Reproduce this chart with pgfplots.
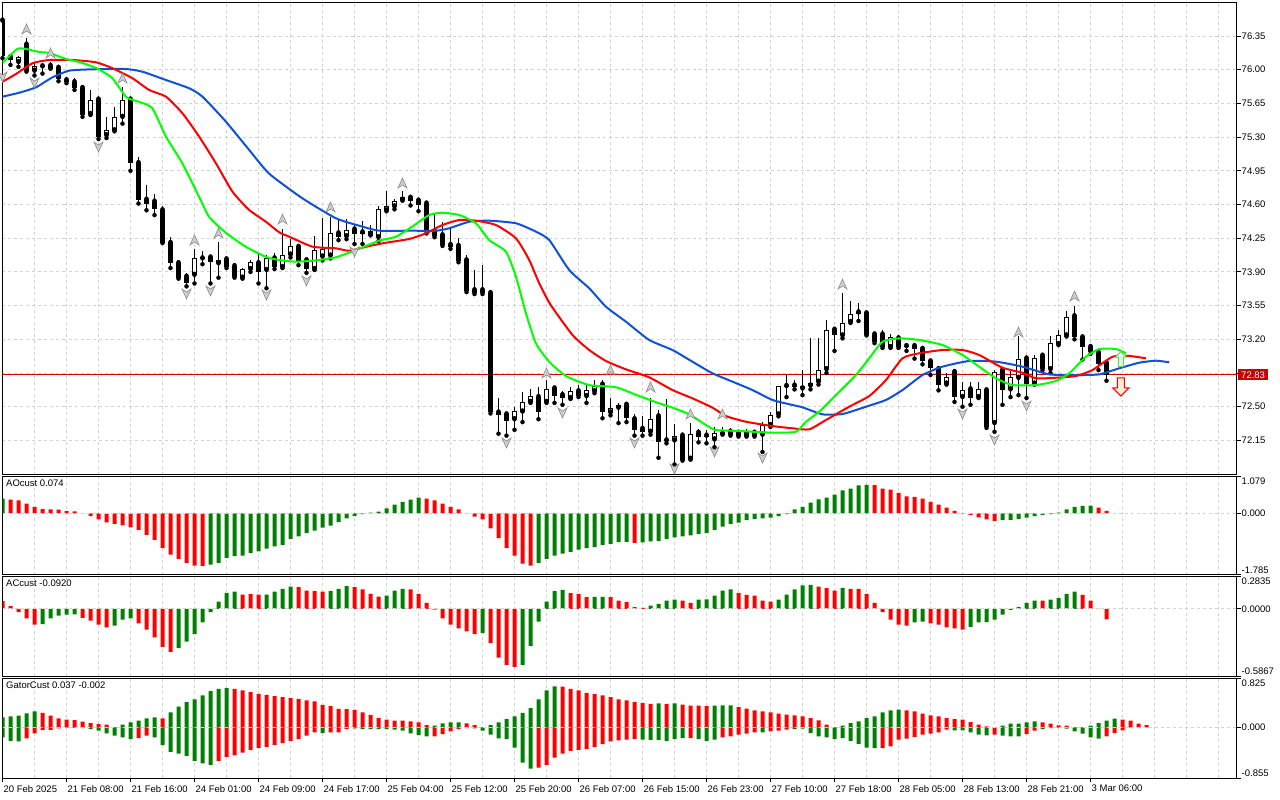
\documentclass[border=0pt]{standalone}
\usepackage{fontspec}
\setmainfont{Liberation Sans}
\usepackage{pgfplots}
\usepackage{pgfplotstable}
\pgfplotsset{compat=1.18}
\newcommand\tf{\fontsize{9.5}{10}\selectfont}
\definecolor{gridc}{RGB}{210,210,210}
\definecolor{lipsc}{RGB}{0,255,0}
\definecolor{teethc}{RGB}{255,0,0}
\definecolor{jawc}{RGB}{16,82,212}
\definecolor{hgreen}{RGB}{0,128,0}
\definecolor{hred}{RGB}{255,0,0}
\definecolor{pricec}{RGB}{215,0,0}
\definecolor{pbox}{RGB}{200,0,0}
\definecolor{fracfill}{RGB}{205,205,205}
\definecolor{fracdraw}{RGB}{140,140,140}
\tikzset{lab/.style={font=\tf, inner sep=0pt}}

\pgfdeclareplotmark{fup}{%
\pgfpathmoveto{\pgfqpoint{0pt}{5pt}}%
\pgfpathlineto{\pgfqpoint{4.5pt}{-5pt}}%
\pgfpathlineto{\pgfqpoint{0pt}{-2pt}}%
\pgfpathlineto{\pgfqpoint{-4.5pt}{-5pt}}%
\pgfpathclose\pgfusepathqfillstroke}
\pgfdeclareplotmark{fdn}{%
\pgfpathmoveto{\pgfqpoint{0pt}{-5pt}}%
\pgfpathlineto{\pgfqpoint{4.5pt}{5pt}}%
\pgfpathlineto{\pgfqpoint{0pt}{2pt}}%
\pgfpathlineto{\pgfqpoint{-4.5pt}{5pt}}%
\pgfpathclose\pgfusepathqfillstroke}
\pgfdeclareplotmark{sup}{%
\pgfpathmoveto{\pgfqpoint{0pt}{7.5pt}}%
\pgfpathlineto{\pgfqpoint{5.5pt}{2pt}}%
\pgfpathlineto{\pgfqpoint{2.5pt}{2pt}}%
\pgfpathlineto{\pgfqpoint{2.5pt}{-7.5pt}}%
\pgfpathlineto{\pgfqpoint{-2.5pt}{-7.5pt}}%
\pgfpathlineto{\pgfqpoint{-2.5pt}{2pt}}%
\pgfpathlineto{\pgfqpoint{-5.5pt}{2pt}}%
\pgfpathclose\pgfusepathqfillstroke}
\pgfdeclareplotmark{sdn}{%
\pgfpathmoveto{\pgfqpoint{0pt}{-9pt}}%
\pgfpathlineto{\pgfqpoint{8pt}{-1pt}}%
\pgfpathlineto{\pgfqpoint{3.5pt}{-1pt}}%
\pgfpathlineto{\pgfqpoint{3.5pt}{9pt}}%
\pgfpathlineto{\pgfqpoint{-3.5pt}{9pt}}%
\pgfpathlineto{\pgfqpoint{-3.5pt}{-1pt}}%
\pgfpathlineto{\pgfqpoint{-8pt}{-1pt}}%
\pgfpathclose\pgfusepathqfillstroke}

\pgfplotstableread{
i O H L C
0 76.51 76.52 76.12 76.14
1 76.13 76.15 76.05 76.10
2 76.08 76.14 76.03 76.13
3 76.26 76.33 75.98 75.99
4 75.99 76.08 75.94 76.04
5 76.035 76.06 75.96 76.025
6 76.04 76.08 76.01 76.01
7 76.02 76.04 75.88 75.90
8 75.89 75.92 75.86 75.87
9 75.87 75.91 75.79 75.81
10 75.81 75.81 75.51 75.53
11 75.54 75.79 75.53 75.69
12 75.69 75.71 75.28 75.30
13 75.32 75.51 75.29 75.37
14 75.37 75.61 75.36 75.51
15 75.51 75.82 75.44 75.69
16 75.69 75.69 74.95 75.03
17 75.03 75.09 74.61 74.65
18 74.65 74.80 74.54 74.61
19 74.63 74.71 74.49 74.55
20 74.54 74.58 74.20 74.20
21 74.20 74.26 73.94 73.99
22 73.99 74.00 73.83 73.84
23 73.85 73.89 73.75 73.79
24 73.87 74.14 73.78 74.04
25 74.04 74.12 73.98 74.06
26 74.05 74.08 73.78 74.00
27 73.99 74.21 73.84 74.02
28 74.03 74.06 73.94 73.95
29 73.96 73.97 73.84 73.85
30 73.84 73.94 73.83 73.93
31 73.93 74.02 73.90 74.00
32 73.99 74.09 73.78 73.90
33 73.92 74.08 73.73 74.04
34 74.04 74.10 73.93 73.95
35 73.95 74.35 73.94 74.08
36 74.08 74.24 74.05 74.17
37 74.16 74.19 73.97 74.01
38 74.02 74.05 73.89 73.93
39 73.93 74.27 73.92 74.13
40 74.06 74.46 74.02 74.14
41 74.07 74.47 74.04 74.30
42 74.30 74.44 74.23 74.26
43 74.27 74.45 74.24 74.34
44 74.34 74.39 74.19 74.29
45 74.31 74.43 74.19 74.29
46 74.29 74.39 74.28 74.33
47 74.26 74.58 74.22 74.55
48 74.54 74.74 74.53 74.58
49 74.58 74.66 74.55 74.64
50 74.65 74.74 74.64 74.68
51 74.67 74.68 74.59 74.64
52 74.64 74.64 74.53 74.59
53 74.61 74.61 74.30 74.34
54 74.32 74.51 74.26 74.27
55 74.28 74.42 74.17 74.18
56 74.18 74.35 74.14 74.16
57 74.17 74.25 74.00 74.01
58 74.02 74.08 73.69 73.70
59 73.71 73.92 73.67 73.68
60 73.71 73.97 73.67 73.68
61 73.68 73.69 72.43 72.44
62 72.44 72.59 72.22 72.41
63 72.42 72.45 72.20 72.35
64 72.37 72.50 72.26 72.46
65 72.45 72.65 72.34 72.55
66 72.55 72.68 72.54 72.61
67 72.60 72.70 72.37 72.45
68 72.55 72.78 72.54 72.68
69 72.69 72.71 72.54 72.61
70 72.62 72.66 72.52 72.59
71 72.59 72.70 72.58 72.66
72 72.66 72.73 72.60 72.61
73 72.61 72.73 72.54 72.67
74 72.66 72.78 72.64 72.71
75 72.73 72.78 72.38 72.45
76 72.44 72.59 72.41 72.49
77 72.49 72.54 72.33 72.52
78 72.52 72.54 72.34 72.38
79 72.37 72.42 72.20 72.26
80 72.27 72.40 72.20 72.24
81 72.24 72.59 72.21 72.37
82 72.40 72.47 71.97 72.13
83 72.15 72.58 72.12 72.14
84 72.15 72.32 71.90 72.20
85 72.20 72.21 71.94 71.95
86 71.96 72.33 71.95 72.22
87 72.23 72.27 72.13 72.19
88 72.20 72.26 72.12 72.19
89 72.16 72.29 72.08 72.23
90 72.22 72.29 72.21 72.24
91 72.24 72.28 72.20 72.21
92 72.23 72.24 72.19 72.20
93 72.20 72.27 72.19 72.24
94 72.23 72.26 72.19 72.20
95 72.21 72.34 72.03 72.31
96 72.31 72.45 72.29 72.41
97 72.42 72.72 72.40 72.71
98 72.715 72.83 72.60 72.705
99 72.72 72.78 72.68 72.70
100 72.69 72.88 72.62 72.72
101 72.72 73.21 72.68 72.75
102 72.76 73.21 72.73 72.88
103 72.89 73.40 72.85 73.30
104 73.30 73.30 73.08 73.24
105 73.24 73.68 73.21 73.37
106 73.38 73.60 73.37 73.46
107 73.48 73.58 73.39 73.46
108 73.47 73.48 73.24 73.25
109 73.25 73.29 73.16 73.17
110 73.25 73.30 73.11 73.12
111 73.12 73.26 73.11 73.22
112 73.21 73.23 73.11 73.12
113 73.13 73.16 73.08 73.12
114 73.13 73.14 73.00 73.10
115 73.10 73.13 72.94 72.97
116 72.97 72.99 72.83 72.90
117 72.89 72.92 72.67 72.73
118 72.74 72.85 72.73 72.81
119 72.86 72.88 72.55 72.60
120 72.60 72.76 72.50 72.67
121 72.68 72.76 72.52 72.59
122 72.60 72.76 72.59 72.68
123 72.67 72.68 72.28 72.29
124 72.33 72.88 72.24 72.86
125 72.88 72.90 72.52 72.67
126 72.68 72.88 72.60 72.81
127 72.80 73.23 72.62 73.00
128 73.00 73.04 72.59 72.74
129 72.74 73.04 72.73 73.01
130 73.03 73.05 72.88 72.89
131 72.89 73.23 72.85 73.16
132 73.15 73.30 73.14 73.25
133 73.24 73.49 73.23 73.43
134 73.44 73.55 73.20 73.22
135 73.22 73.24 72.99 73.12
136 73.12 73.13 73.05 73.07
137 73.06 73.07 72.88 72.94
138 72.95 72.96 72.77 72.83
}\candles

\pgfplotstableread{
x y
0 76.07
1.84 76.215
2.96 76.215
4.59 76.184
5.84 76.174
7.96 76.111
9.59 76.080
11.71 76.018
13.71 75.914
15.46 75.717
17.09 75.665
18.71 75.602
20.46 75.301
22.46 75.031
24.59 74.678
25.84 74.470
27.96 74.304
30.46 74.159
32.96 74.055
34.59 74.024
36.68 74.006
39.20 74.020
41.68 74.052
44.18 74.128
47.09 74.224
49.18 74.266
51.21 74.370
53.34 74.491
54.96 74.515
57.09 74.491
59.18 74.405
60.84 74.231
62.93 74.110
64.18 73.850
65.43 73.470
66.68 73.158
68.34 72.967
70.43 72.819
73.34 72.725
76.68 72.702
79.59 72.611
82.09 72.535
83.75 72.490
85.84 72.421
87.93 72.310
89.18 72.258
92.09 72.248
96.25 72.230
99.18 72.240
100.43 72.344
102.09 72.448
104.18 72.621
106.68 72.829
108.34 73.003
110.00 73.175
112.09 73.210
114.59 73.193
117.50 73.141
120.00 73.037
122.09 72.915
124.18 72.795
126.25 72.725
129.18 72.725
131.68 72.767
133.34 72.847
135.43 73.019
137.09 73.099
139.18 73.099
140.43 73.055
}\lips

\pgfplotstableread{
x y
0 75.875
1.68 75.955
3.75 76.067
5.84 76.101
8.75 76.101
11.68 76.077
13.75 76.015
16.25 75.911
18.34 75.789
20.43 75.720
22.50 75.547
24.59 75.304
26.68 75.028
28.75 74.733
30.84 74.543
32.93 74.421
34.59 74.311
35.84 74.266
38.75 74.162
41.68 74.145
43.34 74.120
45.84 74.169
47.93 74.203
50.84 74.242
52.93 74.301
55.00 74.387
57.09 74.439
59.18 74.432
61.68 74.387
64.18 74.249
65.84 74.024
67.09 73.782
68.50 73.560
71.25 73.245
73.34 73.089
75.43 72.975
77.93 72.888
80.84 72.805
83.75 72.673
86.25 72.587
88.75 72.490
90.43 72.403
92.93 72.344
96.25 72.299
98.75 72.276
100.84 72.265
102.93 72.362
105.84 72.500
108.34 72.611
110.43 72.777
112.50 73.003
114.59 73.055
117.50 73.089
120.00 73.089
122.09 73.037
125.00 72.905
127.50 72.853
129.18 72.795
131.68 72.801
134.18 72.819
136.25 72.881
138.75 73.019
140.84 73.027
142.93 73.003
}\teeth

\pgfplotstableread{
x y
0 75.720
2.09 75.761
4.18 75.817
6.25 75.921
8.34 75.990
11.25 76.004
15.43 76.007
17.50 75.979
20.43 75.893
23.34 75.807
25.00 75.720
27.93 75.460
30.84 75.166
33.34 74.920
37.50 74.664
41.68 74.457
45.00 74.370
47.09 74.328
50.84 74.328
54.18 74.328
55.84 74.353
58.34 74.421
60.84 74.432
64.18 74.405
66.68 74.318
68.34 74.231
70.84 73.920
73.34 73.730
75.43 73.539
77.93 73.383
80.84 73.193
83.75 73.089
86.25 72.967
88.75 72.847
91.25 72.760
93.75 72.673
96.25 72.570
98.75 72.518
100.00 72.494
102.50 72.421
105.00 72.424
107.93 72.500
110.43 72.570
112.50 72.673
115.00 72.829
117.50 72.916
120.84 72.975
124.18 72.968
127.50 72.916
130.84 72.836
134.18 72.829
137.09 72.836
139.59 72.899
142.09 72.957
144.18 72.978
145.84 72.961
}\jaw

\pgfplotstableread{
x y
3 76.423
6 76.174
15 75.914
24 74.231
27 74.304
35 74.449
41 74.574
50 74.823
68 72.850
76 72.881
81 72.705
86 72.424
90 72.424
105 73.774
127 73.276
134 73.650
}\fracup

\pgfplotstableread{
x y
0 75.924
4 75.862
12 75.197
23 73.671
26 73.702
33 73.660
38 73.806
44 74.107
63 72.123
70 72.435
79 72.123
84 71.853
89 72.030
95 71.967
120 72.424
124 72.154
128 72.507
}\fracdn

\pgfplotstableread{
i v c
0 0.434 1
1 0.405 0
2 0.384 0
3 0.289 0
4 0.194 0
5 0.124 0
6 0.116 0
7 0.110 0
8 0.066 0
9 0.060 0
10 -0.009 0
11 -0.078 0
12 -0.173 0
13 -0.260 0
14 -0.309 0
15 -0.347 0
16 -0.405 0
17 -0.483 0
18 -0.627 0
19 -0.772 0
20 -1.012 0
21 -1.205 0
22 -1.329 0
23 -1.445 0
24 -1.523 0
25 -1.530 0
26 -1.494 1
27 -1.445 1
28 -1.301 1
29 -1.251 1
30 -1.234 1
31 -1.156 1
32 -1.107 1
33 -1.032 1
34 -0.962 1
35 -0.916 1
36 -0.743 1
37 -0.673 1
38 -0.578 1
39 -0.500 1
40 -0.413 1
41 -0.355 1
42 -0.251 1
43 -0.145 1
44 -0.078 1
45 -0.020 1
46 0.020 1
47 0.049 1
48 0.145 1
49 0.260 1
50 0.338 1
51 0.405 1
52 0.462 1
53 0.434 0
54 0.384 0
55 0.289 0
56 0.194 0
57 0.116 0
58 -0.005 0
59 -0.095 0
60 -0.173 0
61 -0.434 0
62 -0.723 0
63 -1.012 0
64 -1.234 0
65 -1.465 0
66 -1.523 0
67 -1.445 1
68 -1.329 1
69 -1.234 1
70 -1.176 1
71 -1.127 1
72 -1.061 1
73 -1.012 1
74 -0.983 1
75 -0.916 1
76 -0.887 1
77 -0.838 1
78 -0.830 1
79 -0.860 0
80 -0.847 1
81 -0.818 1
82 -0.801 1
83 -0.743 1
84 -0.702 1
85 -0.673 1
86 -0.644 1
87 -0.598 1
88 -0.578 1
89 -0.483 1
90 -0.384 1
91 -0.309 1
92 -0.269 1
93 -0.194 1
94 -0.165 1
95 -0.145 1
96 -0.124 1
97 -0.078 1
98 -0.020 1
99 0.116 1
100 0.194 1
101 0.318 1
102 0.413 1
103 0.462 1
104 0.549 1
105 0.673 1
106 0.723 1
107 0.818 1
108 0.838 1
109 0.830 0
110 0.723 0
111 0.694 0
112 0.598 0
113 0.500 0
114 0.483 0
115 0.434 0
116 0.338 0
117 0.260 0
118 0.173 0
119 0.078 0
120 -0.009 0
121 -0.049 0
122 -0.116 0
123 -0.173 0
124 -0.223 0
125 -0.194 1
126 -0.190 1
127 -0.165 1
128 -0.124 1
129 -0.078 1
130 -0.049 1
131 -0.020 1
132 0.020 1
133 0.116 1
134 0.194 1
135 0.223 1
136 0.226 1
137 0.173 0
138 0.074 0
}\ao

\pgfplotstableread{
i v c
0 0.068 0
1 0.024 0
2 -0.029 0
3 -0.082 0
4 -0.138 0
5 -0.132 1
6 -0.082 1
7 -0.059 1
8 -0.050 1
9 -0.048 1
10 -0.079 0
11 -0.103 0
12 -0.138 0
13 -0.161 0
14 -0.147 1
15 -0.094 1
16 -0.082 1
17 -0.126 0
18 -0.182 0
19 -0.249 0
20 -0.331 0
21 -0.375 0
22 -0.343 1
23 -0.287 1
24 -0.220 1
25 -0.117 1
26 -0.029 1
27 0.064 1
28 0.141 1
29 0.152 1
30 0.126 0
31 0.130 0
32 0.126 0
33 0.126 1
34 0.152 1
35 0.176 1
36 0.196 1
37 0.191 0
38 0.161 0
39 0.156 0
40 0.152 0
41 0.156 1
42 0.176 1
43 0.200 1
44 0.191 0
45 0.170 0
46 0.132 0
47 0.108 0
48 0.117 1
49 0.161 1
50 0.176 1
51 0.170 0
52 0.132 0
53 0.053 0
54 -0.006 0
55 -0.082 0
56 -0.138 0
57 -0.170 0
58 -0.196 0
59 -0.220 0
60 -0.211 1
61 -0.299 0
62 -0.425 0
63 -0.490 0
64 -0.507 0
65 -0.490 1
66 -0.323 1
67 -0.112 1
68 0.064 1
69 0.156 1
70 0.167 1
71 0.138 0
72 0.132 0
73 0.103 0
74 0.105 1
75 0.106 1
76 0.103 0
77 0.073 0
78 0.059 0
79 0.015 0
80 0.009 0
81 0.029 1
82 0.044 1
83 0.073 1
84 0.082 1
85 0.073 0
86 0.053 0
87 0.082 1
88 0.083 1
89 0.117 1
90 0.161 1
91 0.170 1
92 0.141 0
93 0.123 0
94 0.117 0
95 0.073 0
96 0.064 0
97 0.082 1
98 0.126 1
99 0.170 1
100 0.205 1
101 0.211 1
102 0.196 0
103 0.182 0
104 0.161 0
105 0.185 1
106 0.176 0
107 0.175 0
108 0.132 0
109 0.053 0
110 -0.029 0
111 -0.094 0
112 -0.138 0
113 -0.147 0
114 -0.117 1
115 -0.112 1
116 -0.126 0
117 -0.138 0
118 -0.161 0
119 -0.170 0
120 -0.182 0
121 -0.156 1
122 -0.117 1
123 -0.116 1
124 -0.094 1
125 -0.050 1
126 -0.009 1
127 0.015 1
128 0.053 1
129 0.073 1
130 0.072 0
131 0.082 1
132 0.094 1
133 0.132 1
134 0.152 1
135 0.123 0
136 0.073 0
137 -0.002 0
138 -0.092 0
}\ac

\pgfplotstableread{
i u uc d dc
0 0.170 1 -0.170 1
1 0.187 1 -0.226 1
2 0.199 1 -0.238 1
3 0.238 1 -0.187 0
4 0.272 1 -0.102 0
5 0.243 0 -0.046 0
6 0.199 0 -0.044 0
7 0.153 0 -0.017 0
8 0.131 0 -0.003 0
9 0.124 0 -0.008 1
10 0.097 0 -0.012 1
11 0.073 0 -0.029 1
12 0.056 0 -0.056 1
13 0.046 0 -0.102 1
14 0.005 0 -0.141 1
15 0.046 1 -0.170 1
16 0.085 1 -0.199 1
17 0.114 1 -0.182 0
18 0.153 1 -0.141 0
19 0.170 1 -0.170 1
20 0.153 0 -0.301 1
21 0.255 1 -0.413 1
22 0.352 1 -0.442 1
23 0.425 1 -0.481 1
24 0.471 1 -0.566 1
25 0.539 1 -0.607 1
26 0.612 1 -0.634 1
27 0.651 1 -0.566 0
28 0.663 1 -0.498 0
29 0.651 0 -0.471 0
30 0.624 0 -0.425 0
31 0.595 0 -0.379 0
32 0.566 0 -0.352 0
33 0.549 0 -0.328 0
34 0.527 0 -0.301 0
35 0.510 0 -0.267 0
36 0.493 0 -0.226 0
37 0.481 0 -0.199 0
38 0.454 0 -0.141 0
39 0.437 0 -0.085 0
40 0.379 0 -0.097 1
41 0.357 0 -0.085 0
42 0.311 0 -0.084 0
43 0.310 0 -0.029 0
44 0.294 0 -0.017 1
45 0.255 0 -0.029 1
46 0.209 0 -0.029 1
47 0.158 0 -0.029 1
48 0.131 0 -0.029 1
49 0.114 0 -0.039 1
50 0.113 0 -0.056 1
51 0.102 0 -0.102 1
52 0.085 0 -0.131 1
53 0.039 0 -0.153 1
54 0.029 1 -0.152 0
55 0.068 1 -0.114 0
56 0.085 1 -0.068 0
57 0.086 1 -0.029 0
58 0.068 0 -0.012 0
59 0.039 0 -0.017 1
60 0.005 0 -0.056 1
61 0.039 1 -0.124 1
62 0.085 1 -0.187 1
63 0.141 1 -0.199 1
64 0.187 1 -0.340 1
65 0.243 1 -0.595 1
66 0.323 1 -0.697 1
67 0.471 1 -0.680 0
68 0.624 1 -0.634 0
69 0.692 1 -0.510 0
70 0.690 0 -0.442 0
71 0.651 0 -0.396 0
72 0.624 0 -0.379 0
73 0.583 0 -0.369 0
74 0.561 0 -0.332 0
75 0.539 0 -0.284 0
76 0.510 0 -0.238 0
77 0.471 0 -0.221 0
78 0.454 0 -0.209 0
79 0.430 0 -0.199 0
80 0.413 0 -0.209 1
81 0.396 0 -0.210 1
82 0.403 1 -0.211 1
83 0.396 0 -0.226 1
84 0.403 1 -0.199 1
85 0.386 0 -0.182 1
86 0.369 0 -0.182 0
87 0.368 0 -0.199 1
88 0.357 0 -0.226 1
89 0.369 1 -0.209 1
90 0.370 1 -0.170 0
91 0.371 1 -0.153 0
92 0.340 0 -0.124 0
93 0.318 0 -0.107 0
94 0.289 0 -0.085 0
95 0.272 0 -0.086 1
96 0.255 0 -0.068 0
97 0.233 0 -0.056 0
98 0.216 0 -0.039 0
99 0.204 0 -0.029 1
100 0.187 0 -0.022 1
101 0.158 0 -0.097 1
102 0.119 0 -0.153 1
103 0.046 0 -0.170 1
104 0.005 0 -0.199 1
105 0.029 1 -0.182 1
106 0.073 1 -0.226 1
107 0.102 1 -0.277 1
108 0.158 1 -0.340 1
109 0.187 1 -0.352 1
110 0.255 1 -0.350 0
111 0.289 1 -0.323 0
112 0.301 1 -0.209 0
113 0.289 0 -0.192 0
114 0.272 0 -0.165 0
115 0.233 0 -0.124 0
116 0.204 0 -0.107 0
117 0.187 0 -0.085 0
118 0.158 0 -0.039 0
119 0.141 0 -0.051 1
120 0.131 0 -0.052 1
121 0.090 0 -0.085 1
122 0.046 0 -0.124 1
123 0.017 0 -0.136 1
124 0.005 0 -0.124 0
125 0.029 1 -0.141 1
126 0.063 1 -0.153 1
127 0.064 1 -0.154 1
128 0.085 1 -0.114 0
129 0.102 1 -0.056 0
130 0.085 0 -0.029 1
131 0.063 0 -0.012 1
132 0.034 0 -0.005 0
133 0.029 0 -0.022 1
134 0.005 0 -0.068 1
135 0.005 0 -0.107 1
136 0.029 1 -0.170 1
137 0.073 1 -0.192 1
138 0.114 1 -0.153 0
139 0.148 1 -0.097 0
140 0.131 0 -0.051 0
141 0.114 0 -0.005 0
142 0.063 0 -0.002 0
143 0.037 0 -0.002 0
}\gator

\pgfplotsset{
  panel/.style={
    scale only axis, width=1234pt, anchor=north west,
    xmin=0, xmax=154.25,
    axis line style={black, line width=1pt},
    clip mode=individual,
    ytick pos=right, tick align=outside, major tick length=4pt,
    ytick style={draw=black, line width=1pt},
    major grid style={draw=gridc, line width=1pt, dash pattern=on 3pt off 3pt},
    tick label style={font=\tf},
    yticklabel style={anchor=west, inner sep=0pt, xshift=1pt},
  },
  plainx/.style={xtick={0,4,...,152}, xticklabels={}, xtick style={draw=none}, xmajorgrids},
  hbar/.style={ybar, bar width=4pt, bar shift=0pt, draw=none},
  zline/.style={draw=gridc, line width=1pt, dash pattern=on 3pt off 3pt},
  maline/.style={line width=2pt, line join=round, mark=none, smooth, tension=0.35},
}

\begin{document}
\begin{tikzpicture}
\fill[white] (0,0) rectangle (1280pt,-800pt);
\useasboundingbox (0,0) rectangle (1280pt,-800pt);

% ---------- main price window ----------
\begin{axis}[panel, plainx, at={(2.5pt,-2.5pt)}, height=472pt,
  ymin=71.796, ymax=76.698, ymajorgrids,
  ytick={72.15,72.50,72.85,73.20,73.55,73.90,74.25,74.60,74.95,75.30,75.65,76.00,76.35},
  yticklabels={72.15,72.50,72.85,73.20,73.55,73.90,74.25,74.60,74.95,75.30,75.65,76.00,76.35}]
\addplot[draw=pricec, line width=1pt, forget plot] coordinates {(0,72.83) (154.25,72.83)};
% wicks
\addplot[only marks, mark=none, forget plot, error bars/.cd, y dir=plus, y explicit, error mark=none,
  error bar style={draw=black, line width=1pt, solid}]
  table[x=i, y=L, y error expr={\thisrow{H}-\thisrow{L}}] {\candles};
% bodies
\addplot[only marks, mark=none, forget plot, error bars/.cd, y dir=plus, y explicit, error mark=none,
  error bar style={draw=black, line width=5pt, solid}]
  table[x=i, y=O, y error expr={\thisrow{C}-\thisrow{O}}] {\candles};
\addplot[only marks, mark=none, forget plot, error bars/.cd, y dir=plus, y explicit, error mark=none,
  error bar style={draw=white, line width=3pt, solid}]
  table[x=i, y expr={\thisrow{O}+0.0104}, y error expr={max(\thisrow{C}-\thisrow{O}-0.0208,0)}] {\candles};
% alligator
\addplot[draw=jawc, maline] table[x=x,y=y] {\jaw};
\addplot[draw=teethc, maline] table[x=x,y=y] {\teeth};
\addplot[draw=lipsc, maline] table[x=x,y=y] {\lips};
% fractals
\addplot[only marks, mark=fup, mark options={fill=fracfill, draw=fracdraw, line width=0.6pt, solid}] table[x=x,y=y] {\fracup};
\addplot[only marks, mark=fdn, mark options={fill=fracfill, draw=fracdraw, line width=0.6pt, solid}] table[x=x,y=y] {\fracdn};
% signal arrows
\addplot[only marks, mark=sup, mark options={fill=green!12, draw=green!70!black!60, line width=1pt, solid}] coordinates {(139.8,72.995)};
\addplot[only marks, mark=sdn, mark options={fill=orange!15, draw=red, line width=1pt, solid}] coordinates {(139.8,72.705)};
\node[fill=pbox, text=white, font=\tf, anchor=west, inner xsep=3.5pt, inner ysep=0pt, minimum height=11pt, xshift=1pt]
  at (axis cs:154.25,72.83) {72.83};
\end{axis}

% ---------- AO ----------
\begin{axis}[panel, plainx, at={(2.5pt,-476.5pt)}, height=98pt,
  ymin=-1.785, ymax=1.079, ytick={-1.785,0,1.079}, yticklabels={}]
\addplot[hbar, fill=hgreen, restrict expr to domain={\thisrow{c}}{0.5:1.5}] table[x=i,y=v] {\ao};
\addplot[hbar, fill=hred, restrict expr to domain={\thisrow{c}}{-0.5:0.5}] table[x=i,y=v] {\ao};
\addplot[zline] coordinates {(0,0) (154.25,0)};
\node[lab, anchor=west, xshift=3.5pt, yshift=-7pt] at (rel axis cs:0,1) {AOcust 0.074};
\node[lab, anchor=north west, xshift=5pt, yshift=-1pt] at (rel axis cs:1,1) {1.079};
\node[lab, anchor=west, xshift=5pt] at (axis cs:154.25,0) {0.000};
\node[lab, anchor=south west, xshift=5pt, yshift=1pt] at (rel axis cs:1,0) {-1.785};
\end{axis}

% ---------- AC ----------
\begin{axis}[panel, plainx, at={(2.5pt,-576.5pt)}, height=99.5pt,
  ymin=-0.5867, ymax=0.2835, ytick={-0.5867,0,0.2835}, yticklabels={}]
\addplot[hbar, fill=hgreen, restrict expr to domain={\thisrow{c}}{0.5:1.5}] table[x=i,y=v] {\ac};
\addplot[hbar, fill=hred, restrict expr to domain={\thisrow{c}}{-0.5:0.5}] table[x=i,y=v] {\ac};
\addplot[zline] coordinates {(0,0) (154.25,0)};
\node[lab, anchor=west, xshift=3.5pt, yshift=-7pt] at (rel axis cs:0,1) {ACcust -0.0920};
\node[lab, anchor=north west, xshift=5pt, yshift=-1pt] at (rel axis cs:1,1) {0.2835};
\node[lab, anchor=west, xshift=5pt] at (axis cs:154.25,0) {0.0000};
\node[lab, anchor=south west, xshift=5pt, yshift=1pt] at (rel axis cs:1,0) {-0.5867};
\end{axis}

% ---------- Gator ----------
\begin{axis}[panel, at={(2.5pt,-678.5pt)}, height=99.5pt,
  ymin=-0.855, ymax=0.825, ytick={-0.855,0,0.825}, yticklabels={},
  xtick pos=left, xtick style={draw=black, line width=1pt},
  xtick={0,8,...,136},
  xticklabels={20 Feb 2025,21 Feb 08:00,21 Feb 16:00,24 Feb 01:00,24 Feb 09:00,24 Feb 17:00,25 Feb 04:00,25 Feb 12:00,25 Feb 20:00,26 Feb 07:00,26 Feb 15:00,26 Feb 23:00,27 Feb 10:00,27 Feb 18:00,28 Feb 05:00,28 Feb 13:00,28 Feb 21:00,3 Mar 06:00},
  xticklabel style={anchor=north west, inner sep=0pt, xshift=1pt, yshift=-3pt},
  minor xtick={4,12,...,148,144,152}, minor tick length=0pt,
  xmajorgrids, xminorgrids,
  minor grid style={draw=gridc, line width=1pt, dash pattern=on 3pt off 3pt}]
\addplot[hbar, fill=hgreen, restrict expr to domain={\thisrow{uc}}{0.5:1.5}] table[x=i,y=u] {\gator};
\addplot[hbar, fill=hred, restrict expr to domain={\thisrow{uc}}{-0.5:0.5}] table[x=i,y=u] {\gator};
\addplot[hbar, fill=hgreen, restrict expr to domain={\thisrow{dc}}{0.5:1.5}] table[x=i,y=d] {\gator};
\addplot[hbar, fill=hred, restrict expr to domain={\thisrow{dc}}{-0.5:0.5}] table[x=i,y=d] {\gator};
\addplot[zline] coordinates {(0,0) (154.25,0)};
\node[lab, anchor=west, xshift=3.5pt, yshift=-7pt] at (rel axis cs:0,1) {GatorCust 0.037 -0.002};
\node[lab, anchor=north west, xshift=5pt, yshift=-1pt] at (rel axis cs:1,1) {0.825};
\node[lab, anchor=west, xshift=5pt] at (axis cs:154.25,0) {0.000};
\node[lab, anchor=south west, xshift=5pt, yshift=1pt] at (rel axis cs:1,0) {-0.855};
\end{axis}
\end{tikzpicture}
\end{document}
